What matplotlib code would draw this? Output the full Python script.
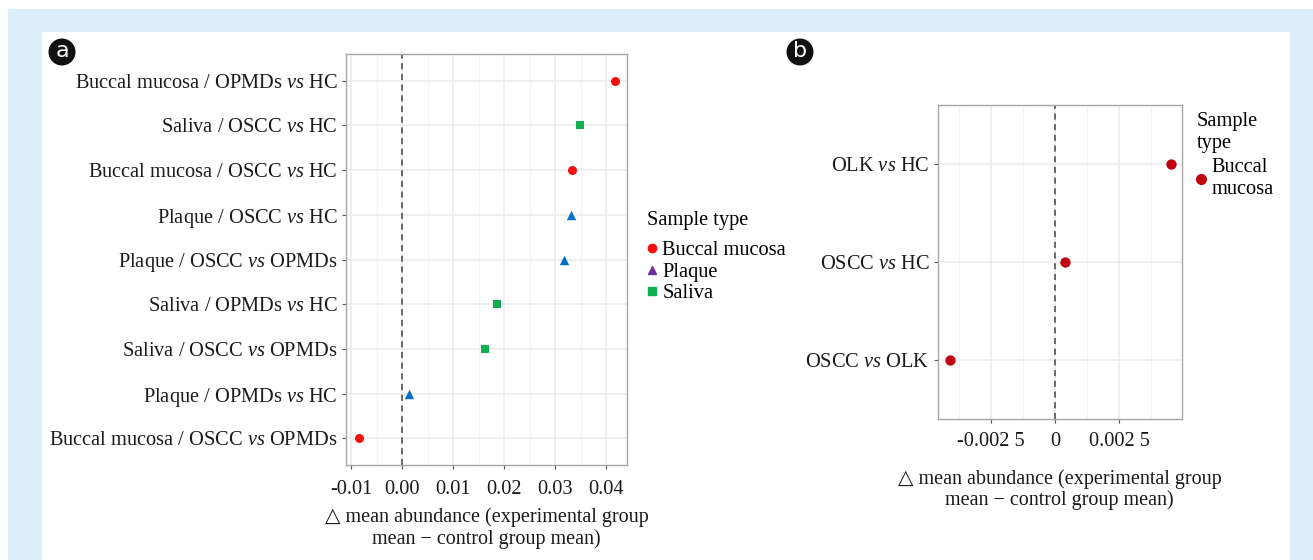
import matplotlib
matplotlib.use("Agg")
import matplotlib.pyplot as plt
from matplotlib.lines import Line2D
from matplotlib.patches import Rectangle, Ellipse

plt.rcParams['font.family'] = ['Liberation Serif', 'DejaVu Sans']
plt.rcParams['mathtext.fontset'] = 'custom'
plt.rcParams['mathtext.rm'] = 'Liberation Serif'
plt.rcParams['mathtext.it'] = 'Liberation Serif:italic'

# ---------------- data ----------------
a_labels = ["Buccal mucosa / OPMDs $\\mathit{vs}$ HC",
            "Saliva / OSCC $\\mathit{vs}$ HC",
            "Buccal mucosa / OSCC $\\mathit{vs}$ HC",
            "Plaque / OSCC $\\mathit{vs}$ HC",
            "Plaque / OSCC $\\mathit{vs}$ OPMDs",
            "Saliva / OPMDs $\\mathit{vs}$ HC",
            "Saliva / OSCC $\\mathit{vs}$ OPMDs",
            "Plaque / OPMDs $\\mathit{vs}$ HC",
            "Buccal mucosa / OSCC $\\mathit{vs}$ OPMDs"]
a_values = [0.0418, 0.0349, 0.0333, 0.0331, 0.0317, 0.0186, 0.0162, 0.0014, -0.0084]
a_types = ["Buccal mucosa", "Saliva", "Buccal mucosa", "Plaque", "Plaque",
           "Saliva", "Saliva", "Plaque", "Buccal mucosa"]
a_xticks = [-0.01, 0.00, 0.01, 0.02, 0.03, 0.04]
a_xticklabels = ["-0.01", "0.00", "0.01", "0.02", "0.03", "0.04"]
sample_types = ["Buccal mucosa", "Plaque", "Saliva"]

b_labels = ["OLK $\\mathit{vs}$ HC", "OSCC $\\mathit{vs}$ HC", "OSCC $\\mathit{vs}$ OLK"]
b_values = [0.00451, 0.00039, -0.00408]
b_xticks = [-0.0025, 0.0, 0.0025]
b_xticklabels = ["-0.002 5", "0", "0.002 5"]

# ---------------- styles ----------------
point_style = {"Buccal mucosa": dict(marker="o", color="#f80d0d", s=42),
               "Plaque": dict(marker="^", color="#0a6fc2", s=46),
               "Saliva": dict(marker="s", color="#10b050", s=34)}
legend_color = {"Buccal mucosa": "#f80d0d", "Plaque": "#7030a0", "Saliva": "#10b050"}
b_color = "#c00010"

W, H = 1313, 560
fig = plt.figure(figsize=(W / 100, H / 100), dpi=100)
fig.patch.set_facecolor("white")

def fx(px):
    return px / W

def fy(py):
    return 1 - py / H

fig.patches.append(Rectangle((fx(8), 0), 1 - fx(8), fy(9), transform=fig.transFigure,
                             facecolor="#ddeffa", edgecolor="none", zorder=-10))
fig.patches.append(Rectangle((fx(42), 0), fx(1290) - fx(42), fy(32), transform=fig.transFigure,
                             facecolor="white", edgecolor="none", zorder=-9))

FS = 14.7
GRID = "#ebebeb"
BORDER = "#a6a6a6"

def style_axes(ax, xpad):
    for sp in ax.spines.values():
        sp.set_color(BORDER)
        sp.set_linewidth(1.0)
    ax.tick_params(axis="both", colors="#555555", length=3, width=0.8, labelsize=FS,
                   labelcolor="#1a1a1a", pad=3)
    ax.tick_params(axis="x", pad=xpad)
    ax.set_axisbelow(True)

XLABEL = "\u25b3 mean abundance (experimental group\nmean \u2212 control group mean)"

# ---------------- panel a ----------------
axa = fig.add_axes([fx(346), fy(465), fx(627) - fx(346), fy(54) - fy(465)])
n = len(a_labels)
ypos = [n - i for i in range(n)]
axa.set_xlim(-0.011, 0.0441)
axa.set_ylim(0.4, n + 0.6)
for xm in [-0.005, 0.005, 0.015, 0.025, 0.035]:
    axa.axvline(xm, color="#f3f3f3", lw=0.8, zorder=0)
for xm in a_xticks:
    axa.axvline(xm, color=GRID, lw=1.1, zorder=0)
for yy in ypos:
    axa.axhline(yy, color=GRID, lw=1.1, zorder=0)
axa.axvline(0, color="#444444", lw=1.1, ls=(0, (4, 3)), zorder=1)
for t in sample_types:
    xs = [v for v, tt in zip(a_values, a_types) if tt == t]
    ys = [y for y, tt in zip(ypos, a_types) if tt == t]
    st = point_style[t]
    axa.scatter(xs, ys, marker=st["marker"], color=st["color"], s=st["s"], zorder=3,
                linewidths=0)
axa.set_yticks(ypos)
axa.set_yticklabels(a_labels)
axa.set_xticks(a_xticks)
axa.set_xticklabels(a_xticklabels)
style_axes(axa, 8)
axa.set_xlabel(XLABEL, fontsize=14.5, color="#1a1a1a", labelpad=6, linespacing=1.12)

handles = [Line2D([], [], ls="none", marker=point_style[t]["marker"], color=legend_color[t],
                  markersize=6) for t in sample_types]
leg = fig.legend(handles, sample_types, title="Sample type", loc="upper left",
                 bbox_to_anchor=(fx(647), fy(211)), frameon=False, fontsize=FS,
                 title_fontsize=FS, handlelength=0.5, handletextpad=0.25,
                 labelspacing=0.1, borderaxespad=0, borderpad=0)
leg._legend_box.align = "left"
leg._legend_box.sep = 8

# ---------------- panel b ----------------
axb = fig.add_axes([fx(937.7), fy(419.3), fx(1181.7) - fx(937.7), fy(104.7) - fy(419.3)])
m = len(b_labels)
ypb = [m - i for i in range(m)]
axb.set_xlim(-0.00456, 0.004926)
axb.set_ylim(0.4, m + 0.6)
for xm in [-0.00375, -0.00125, 0.00125, 0.00375]:
    axb.axvline(xm, color="#f3f3f3", lw=0.8, zorder=0)
for xm in b_xticks:
    axb.axvline(xm, color=GRID, lw=1.1, zorder=0)
for yy in ypb:
    axb.axhline(yy, color=GRID, lw=1.1, zorder=0)
axb.axvline(0, color="#444444", lw=1.1, ls=(0, (4, 3)), zorder=1)
axb.scatter(b_values, ypb, marker="o", color=b_color, s=55, zorder=3, linewidths=0)
axb.set_yticks(ypb)
axb.set_yticklabels(b_labels)
axb.set_xticks(b_xticks)
axb.set_xticklabels(b_xticklabels)
style_axes(axb, 6)
axb.set_xlabel(XLABEL, fontsize=14.5, color="#1a1a1a", labelpad=13, linespacing=1.12)

hb = [Line2D([], [], ls="none", marker="o", color=b_color, markersize=7)]
legb = fig.legend(hb, ["Buccal\nmucosa"], title="Sample\ntype", loc="upper left",
                  bbox_to_anchor=(fx(1197), fy(112)), frameon=False, fontsize=FS,
                  title_fontsize=FS, handlelength=0.4, handletextpad=0.3,
                  borderaxespad=0, borderpad=0)
legb._legend_box.align = "left"
legb._legend_box.sep = 4
for t in legb.get_texts():
    t.set_linespacing(1.2)
legb.get_title().set_linespacing(1.2)

# ---------------- panel tags ----------------
for cx, cy, lab in [(62, 52, "a"), (800, 52, "b")]:
    circ = Ellipse((fx(cx), fy(cy)), width=27 / W, height=27 / H, transform=fig.transFigure,
                   facecolor="#111111", edgecolor="none")
    fig.patches.append(circ)
    fig.text(fx(cx), fy(cy) + 0.002, lab, color="white", fontsize=16,
             family="DejaVu Sans", ha="center", va="center")

fig.savefig("out.png", dpi=100)
